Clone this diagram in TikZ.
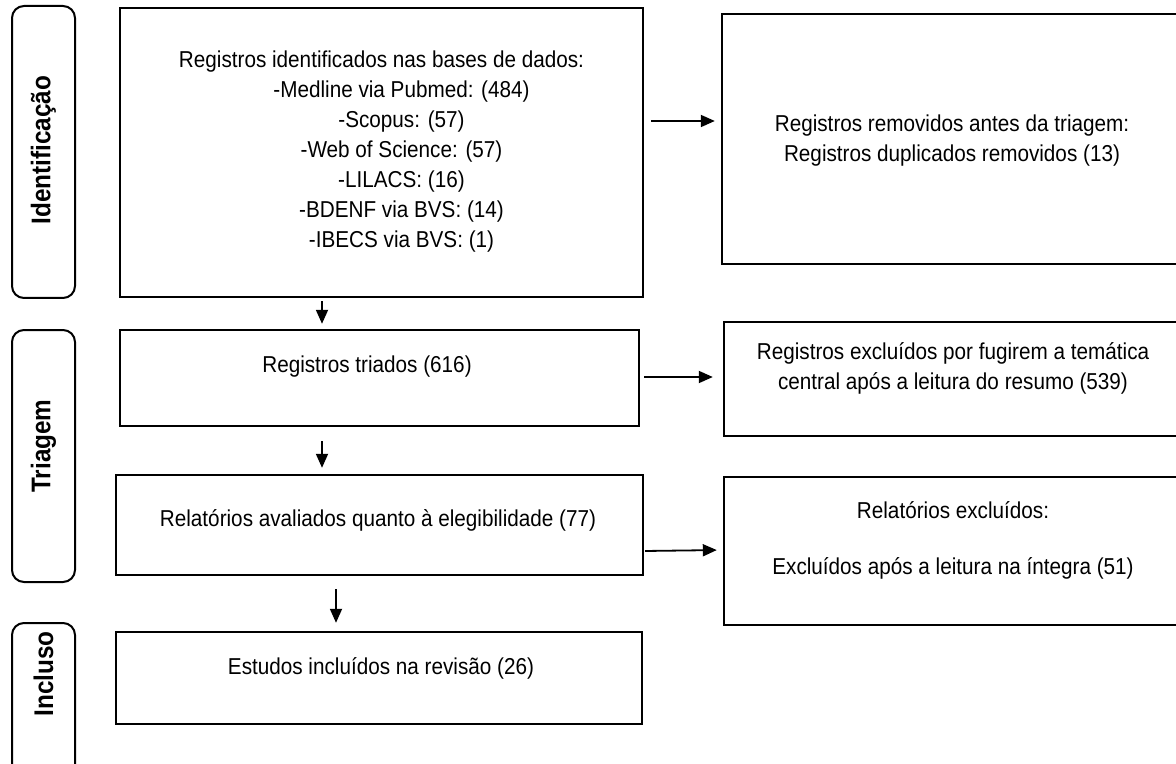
\documentclass[tikz,border=0pt]{standalone}
\usepackage{fontspec}
\setmainfont{Liberation Sans}[FakeStretch=0.9]
\usetikzlibrary{arrows.meta}

\begin{document}
\begin{tikzpicture}[x=0.5pt, y=-0.5pt, every node/.style={font=\fontsize{11.5}{15}\selectfont},
  box/.style={draw, line width=1.2pt, inner sep=0pt},
  side/.style={draw, line width=1pt, rounded corners=6pt, inner sep=0pt, minimum width=31.5pt},
  lbl/.style={align=center, inner sep=0pt},
  tag/.style={rotate=90, inner sep=0pt, font=\fontsize{13.5}{15}\selectfont\bfseries},
  arr/.style={-{Triangle[length=7pt,width=6pt]}, line width=0.9pt}]
\useasboundingbox (0,0) rectangle (1176,764);
\clip (0,0) rectangle (1176,764);
% stage tags
\node[side, minimum height=146pt] (identif) at (43.5,152) {};
\node[side, minimum height=126pt] (triagem) at (43.5,456) {};
\node[side, minimum height=88.5pt] (incluso) at (43.5,711.5) {};
\node[tag] (identif-t) at (43.5,150) {Identificação};
\node[tag] (triagem-t) at (43.5,446) {Triagem};
\node[tag] (incluso-t) at (43.5,674) {Incluso};
% boxes
\node[box, minimum width=261.5pt, minimum height=144.5pt] (ident) at (381.5,152.5) {};
\node[box, minimum width=229pt, minimum height=125pt] (removed) at (951,139) {};
\node[box, minimum width=259.5pt, minimum height=48pt] (triados) at (379.5,378) {};
\node[box, minimum width=228pt, minimum height=57pt] (excl1) at (952,379) {};
\node[box, minimum width=263.5pt, minimum height=50pt] (aval) at (379.5,525) {};
\node[box, minimum width=228pt, minimum height=74pt] (excl2) at (952,551) {};
\node[box, minimum width=263pt, minimum height=46pt] (incl) at (379,678) {};
% texts
\node[lbl] (ident-t) at (381.5,152) {Registros identificados nas bases de dados:\\
  \hspace*{20pt}-Medline via Pubmed: (484)\\
  \hspace*{20pt}-Scopus: (57)\\
  \hspace*{20pt}-Web of Science: (57)\\
  \hspace*{20pt}-LILACS: (16)\\
  \hspace*{20pt}-BDENF via BVS: (14)\\
  \hspace*{20pt}-IBECS via BVS: (1)};
\node[lbl] (removed-t) at (952,141) {Registros removidos antes da triagem:\\ Registros duplicados removidos (13)};
\node[lbl] (triados-t) at (367,367) {Registros triados (616)};
\node[lbl] (excl1-t) at (953,368.5) {Registros excluídos por fugirem a temática\\ central após a leitura do resumo (539)};
\node[lbl] (aval-t) at (378,520) {Relatórios avaliados quanto à elegibilidade (77)};
\node[lbl] (excl2-t) at (953,540) {Relatórios excluídos:\\[13pt] Excluídos após a leitura na íntegra (51)};
\node[lbl] (incl-t) at (381,668) {Estudos incluídos na revisão (26)};
% arrows
\draw[arr, shorten <=3.5pt, shorten >=3pt] (ident.east |- 0,121) -- (removed.west |- 0,121);
\draw[arr, shorten <=2pt, shorten >=5pt] (triados.east |- 0,377) -- (excl1.west |- 0,377);
\draw[arr, shorten <=0.5pt, shorten >=3pt] (aval.east |- 0,551) -- (excl2.west |- 0,550);
\draw[arr, shorten <=1.5pt, shorten >=2.5pt] (ident.south -| 322,0) -- (triados.north -| 322,0);
\draw[arr, shorten <=7pt, shorten >=3pt] (triados.south -| 322,0) -- (aval.north -| 322,0);
\draw[arr, shorten <=6.5pt, shorten >=4pt] (aval.south -| 336,0) -- (incl.north -| 336,0);
\end{tikzpicture}
\end{document}
